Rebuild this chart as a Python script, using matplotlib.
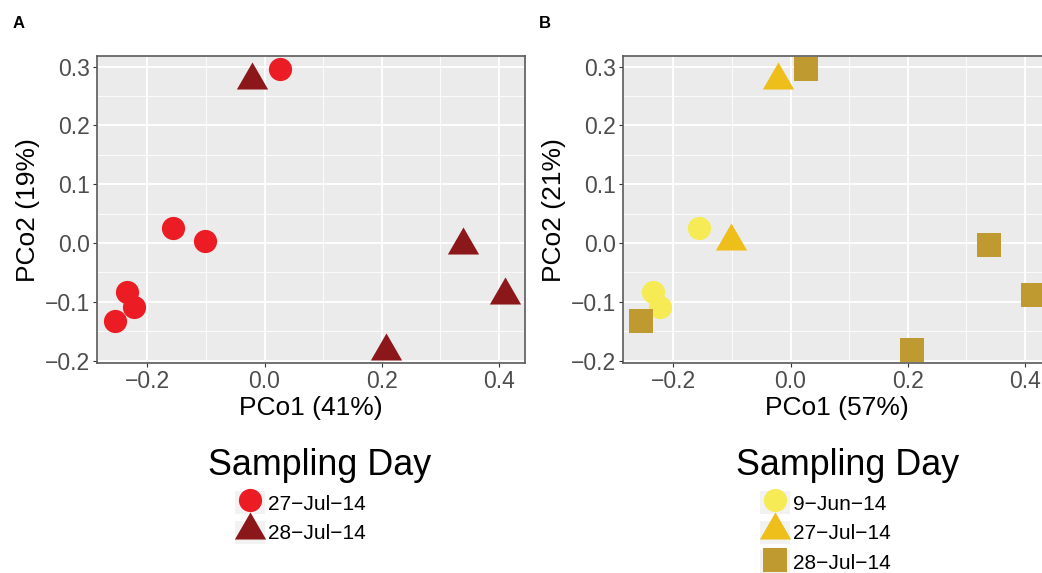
import numpy as np
import matplotlib
matplotlib.use("Agg")
import matplotlib.pyplot as plt
from matplotlib.lines import Line2D
from matplotlib.patches import Patch
from matplotlib.legend_handler import HandlerTuple

plt.rcParams["font.family"] = ["Liberation Sans", "DejaVu Sans"]

# panel A: grouped into two sampling days
a_days = ["27\u2212Jul\u221214", "28\u2212Jul\u221214"]
a_x = [
    [0.027, -0.156, -0.102, -0.235, -0.223, -0.255],
    [-0.022, 0.339, 0.411, 0.207],
]
a_y = [
    [0.296, 0.025, 0.004, -0.084, -0.108, -0.133],
    [0.278, -0.004, -0.089, -0.183],
]
a_label_x = "PCo1 (41%)"
a_label_y = "PCo2 (19%)"

# panel B: grouped into three sampling days
b_days = ["9\u2212Jun\u221214", "27\u2212Jul\u221214", "28\u2212Jul\u221214"]
b_x = [
    [-0.156, -0.235, -0.223],
    [-0.022, -0.102],
    [0.027, 0.339, 0.414, 0.207, -0.255],
]
b_y = [
    [0.025, -0.084, -0.108],
    [0.278, 0.003],
    [0.296, -0.003, -0.089, -0.182, -0.133],
]
b_label_x = "PCo1 (57%)"
b_label_y = "PCo2 (21%)"

xticks = [-0.2, 0.0, 0.2, 0.4]
yticks = [-0.2, -0.1, 0.0, 0.1, 0.2, 0.3]

TRI = [(0, 1), (-0.866, -0.5), (0.866, -0.5)]
a_styles = [("o", 16.7, "#EC1C24"), (TRI, 26.0, "#8B171A")]
b_styles = [("o", 16.7, "#F6EB55"), (TRI, 26.0, "#EEBE1B"), ("s", 17.2, "#BE9A30")]

W, H = 1042, 573
fig = plt.figure(figsize=(W / 100, H / 100), dpi=100)


def px(x0, y0, x1, y1):
    return [x0 / W, 1 - y1 / H, (x1 - x0) / W, (y1 - y0) / H]


def panel(rect, xs, ys, styles, days, lx, ly, tag, tagx, title_cx, leg_x, leg_top):
    ax = fig.add_axes(rect)
    ax.set_facecolor("#EBEBEB")
    for x, y, (m, ms, c) in zip(xs, ys, styles):
        ax.plot(x, y, linestyle="none", marker=m, markersize=ms,
                color=c, markeredgewidth=0, zorder=3)
    ax.set_xlim(-0.2867, 0.445)
    ax.set_ylim(-0.2044, 0.318)
    ax.set_xticks(xticks)
    ax.set_xticklabels([f"{v:.1f}".replace("-", "\u2212") for v in xticks])
    ax.set_yticks(yticks)
    ax.set_yticklabels([f"{v:.1f}".replace("-", "\u2212") for v in yticks])
    ax.set_xticks([-0.1, 0.1, 0.3], minor=True)
    ax.set_yticks([-0.15, -0.05, 0.05, 0.15, 0.25], minor=True)
    ax.grid(which="major", color="white", linewidth=1.3, zorder=0)
    ax.grid(which="minor", color="white", linewidth=0.6, zorder=0)
    ax.set_axisbelow(True)
    ax.tick_params(which="major", length=3, width=0.8, color="#333333",
                   labelsize=16.5, labelcolor="#4D4D4D", pad=2)
    ax.tick_params(which="minor", length=0)
    for s in ax.spines.values():
        s.set_color("#5A5A5A")
        s.set_linewidth(1.2)
    ax.set_xlabel(lx, fontsize=19, labelpad=2)
    ax.set_ylabel(ly, fontsize=19, labelpad=3)
    fig.text(tagx / W, 1 - 28 / H, tag, fontsize=12, fontweight="bold")

    fig.text(title_cx / W, 1 - 475 / H, "Sampling Day", fontsize=25.8,
             ha="center", va="baseline")
    handles = [(Patch(facecolor="#F2F2F2", edgecolor="none"),
                Line2D([], [], linestyle="none", marker=m, markersize=ms,
                       color=c, markeredgewidth=0))
               for m, ms, c in styles]
    ax.legend(handles, days, loc="upper left",
              bbox_to_anchor=(leg_x / W, 1 - leg_top / H),
              bbox_transform=fig.transFigure, frameon=False, fontsize=15,
              handler_map={tuple: HandlerTuple(ndivide=1)},
              handlelength=1.45, handleheight=1.35, handletextpad=0.15,
              labelspacing=0.3, borderpad=0, borderaxespad=0)
    return ax


panel(px(96.7, 56, 525, 363.3), a_x, a_y, a_styles, a_days,
      a_label_x, a_label_y, "A", 13, 320, 235, 491)
panel(px(622.7, 56, 1051, 363.3), b_x, b_y, b_styles, b_days,
      b_label_x, b_label_y, "B", 539, 848, 760, 491)

fig.savefig("out.png", dpi=100)
